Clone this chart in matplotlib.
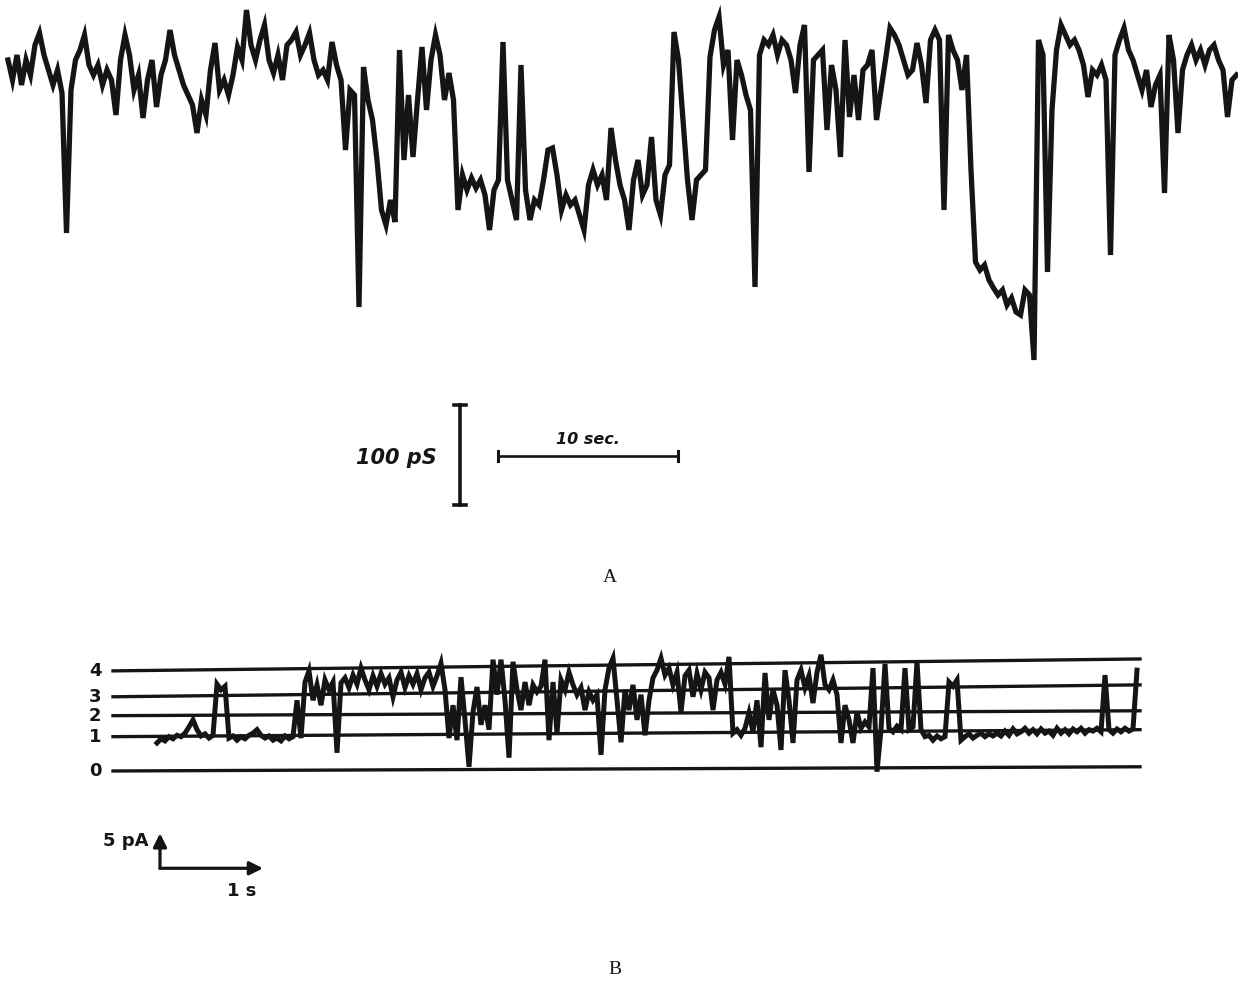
import numpy as np
import matplotlib.pyplot as plt

# --- record A: conductance (pS), one sample every 0.25 s ---
dt_a = 0.25
cond_a = [
    300, 280, 305, 275, 300, 285, 315, 327, 305, 290,
    275, 290, 267, 127, 270, 300, 310, 325, 295, 285,
    295, 275, 290, 280, 245, 300, 325, 305, 270, 285,
    242, 280, 300, 253, 285, 300, 330, 305, 290, 275,
    265, 255, 227, 260, 245, 290, 317, 270, 280, 265,
    285, 313, 300, 350, 315, 300, 320, 335, 300, 287,
    305, 280, 315, 320, 328, 305, 315, 327, 300, 285,
    290, 280, 318, 295, 280, 210, 270, 265, 53, 293,
    260, 240, 200, 150, 135, 160, 138, 310, 200, 265,
    203, 260, 313, 250, 300, 325, 305, 260, 287, 260,
    150, 185, 170, 182, 172, 180, 165, 130, 170, 180,
    318, 180, 160, 140, 295, 170, 140, 160, 155, 180,
    210, 212, 185, 150, 165, 155, 160, 145, 130, 175,
    190, 175, 185, 160, 232, 200, 175, 160, 130, 180,
    200, 165, 175, 223, 160, 145, 185, 195, 328, 300,
    240, 180, 140, 180, 185, 190, 303, 330, 343, 295,
    310, 220, 300, 285, 265, 250, 73, 305, 320, 315,
    325, 305, 320, 315, 300, 267, 315, 335, 188, 300,
    305, 310, 230, 295, 270, 203, 320, 243, 285, 240,
    290, 295, 310, 240, 270, 300, 332, 325, 315, 300,
    285, 290, 317, 295, 257, 320, 330, 320, 150, 325,
    310, 300, 270, 305, 190, 98, 90, 95, 80, 72,
    65, 70, 55, 62, 48, 45, 70, 65, 0, 320,
    305, 88, 250, 310, 335, 325, 315, 320, 310, 295,
    263, 290, 285, 295, 280, 105, 305, 320, 332, 310,
    300, 285, 270, 290, 253, 275, 285, 167, 325, 300,
    227, 290, 305, 315, 300, 310, 295, 310, 315, 300,
    290, 243, 280, 285,
]

# --- record B: current (pA), one sample every 0.04 s ---
dt_b = 0.04
curr_b = [
    4.0, 4.6, 4.3, 4.9, 4.6, 5.1, 4.9, 5.4, 6.3, 7.3,
    5.9, 5.0, 5.3, 4.7, 5.1, 12.4, 11.6, 12.1, 4.7, 5.0,
    4.4, 4.9, 4.6, 5.1, 5.4, 5.9, 5.1, 4.7, 5.0, 4.4,
    4.7, 4.3, 5.0, 4.6, 4.9, 10.1, 4.7, 12.7, 14.3, 10.1,
    12.3, 9.4, 13.0, 11.6, 12.7, 2.6, 12.6, 13.3, 11.9, 13.7,
    12.4, 14.7, 13.0, 11.6, 13.6, 12.1, 13.9, 12.4, 13.3, 10.6,
    13.0, 14.1, 11.9, 13.6, 12.4, 13.9, 11.6, 13.3, 14.1, 12.1,
    13.6, 15.4, 11.6, 4.7, 9.4, 4.4, 13.4, 7.3, 0.6, 8.4,
    12.0, 6.6, 9.4, 5.9, 15.9, 10.9, 15.9, 10.1, 1.9, 15.6,
    11.6, 8.7, 12.7, 9.4, 12.3, 11.3, 12.1, 15.9, 4.4, 12.7,
    5.4, 13.0, 11.6, 14.1, 12.3, 10.9, 11.9, 8.7, 11.3, 10.1,
    10.9, 2.3, 11.6, 14.7, 16.1, 10.1, 4.1, 11.6, 8.7, 12.3,
    7.3, 10.9, 5.1, 10.1, 13.3, 14.4, 16.1, 13.7, 14.7, 12.3,
    14.1, 8.4, 13.6, 14.4, 10.6, 13.9, 11.6, 14.1, 13.3, 8.7,
    13.0, 14.1, 12.4, 16.3, 5.4, 5.9, 5.1, 6.1, 8.3, 5.6,
    10.1, 3.4, 14.0, 7.3, 11.6, 9.4, 3.0, 14.4, 10.1, 4.0,
    13.0, 14.4, 11.9, 13.6, 9.7, 14.1, 16.6, 12.3, 11.6, 13.0,
    10.9, 4.0, 9.4, 7.3, 4.0, 8.4, 6.1, 7.0, 6.3, 14.7,
    -0.1, 5.9, 15.3, 6.1, 5.6, 6.4, 5.9, 14.7, 5.9, 6.3,
    15.6, 5.9, 4.9, 5.1, 4.4, 5.0, 4.6, 4.9, 12.7, 12.1,
    13.0, 4.4, 4.9, 5.3, 4.7, 5.1, 5.4, 4.9, 5.3, 5.0,
    5.4, 5.0, 5.7, 5.1, 6.0, 5.3, 5.6, 6.1, 5.4, 5.9,
    5.3, 6.0, 5.4, 5.7, 5.1, 6.1, 5.4, 5.9, 5.3, 6.0,
    5.6, 6.1, 5.4, 5.9, 5.7, 6.1, 5.6, 13.7, 5.9, 5.4,
    6.0, 5.6, 6.1, 5.7, 6.0, 14.4,
]

# open-channel reference levels (pA) at start and end of record B
level_names = ['0', '1', '2', '3', '4']
level_start = [0.0, 4.9, 7.9, 10.6, 14.3]
level_end = [0.6, 5.9, 8.6, 12.3, 16.0]
level_t = [-0.44, 9.83]

ink = '#151515'

fig = plt.figure(figsize=(12.38, 9.85), dpi=100)
fig.patch.set_facecolor('white')

# ---------- panel A ----------
ax1 = fig.add_axes([0, 1 - 530 / 985, 1, 530 / 985])
ax1.set_xlim(-8 / 18, 1230 / 18)
ax1.set_ylim(-170, 360)
ax1.axis('off')

t_a = np.arange(len(cond_a)) * dt_a
ax1.plot(t_a, cond_a, color=ink, lw=3.8, solid_joinstyle='miter', clip_on=False)

# scale bars: 100 pS, 10 s
ax1.plot([25.1, 25.1], [-45, -145], color=ink, lw=2.6)
ax1.plot([24.75, 25.45], [-45, -45], color=ink, lw=2.6)
ax1.plot([24.75, 25.45], [-145, -145], color=ink, lw=2.6)
ax1.plot([27.2, 37.2], [-96, -96], color=ink, lw=1.9)
ax1.plot([27.2, 27.2], [-91, -101], color=ink, lw=2.2)
ax1.plot([37.2, 37.2], [-91, -101], color=ink, lw=2.2)
ax1.text(23.8, -98, '100 pS', ha='right', va='center', fontsize=15,
         style='italic', fontweight='bold', color=ink)
ax1.text(32.2, -79, '10 sec.', ha='center', va='center', fontsize=11.5,
         style='italic', fontweight='bold', color=ink)

fig.text(610 / 1238, 1 - 578 / 985, 'A', ha='center', va='center',
         fontsize=14, family='Liberation Serif', color=ink)

# ---------- panel B ----------
ax2 = fig.add_axes([0, 1 - 900 / 985, 1, 260 / 985])
ax2.set_xlim(-1.57, 10.81)
ax2.set_ylim(-18.43, 18.71)
ax2.axis('off')

for name, y0, y1 in zip(level_names, level_start, level_end):
    ax2.plot(level_t, [y0, y1], color=ink, lw=2.4)
    ax2.text(-0.62, y0, name, ha='center', va='center', fontsize=13,
             fontweight='bold', color=ink)

t_b = np.arange(len(curr_b)) * dt_b
ax2.plot(t_b, curr_b, color=ink, lw=3.6, solid_joinstyle='miter', clip_on=False)

# scale arrows: 5 pA, 1 s
corner = (0.03, -13.9)
ax2.annotate('', xy=(0.03, -8.9), xytext=corner,
             arrowprops=dict(arrowstyle='-|>', lw=2.3, color=ink,
                             mutation_scale=20, shrinkA=0, shrinkB=0))
ax2.annotate('', xy=(1.06, -13.9), xytext=corner,
             arrowprops=dict(arrowstyle='-|>', lw=2.3, color=ink,
                             mutation_scale=20, shrinkA=0, shrinkB=0))
ax2.text(-0.09, -10.0, '5 pA', ha='right', va='center', fontsize=13,
         fontweight='bold', color=ink)
ax2.text(0.85, -17.2, '1 s', ha='center', va='center', fontsize=13,
         fontweight='bold', color=ink)

fig.text(615 / 1238, 1 - 970 / 985, 'B', ha='center', va='center',
         fontsize=14, family='Liberation Serif', color=ink)

fig.savefig('out.png', dpi=100, facecolor='white')
